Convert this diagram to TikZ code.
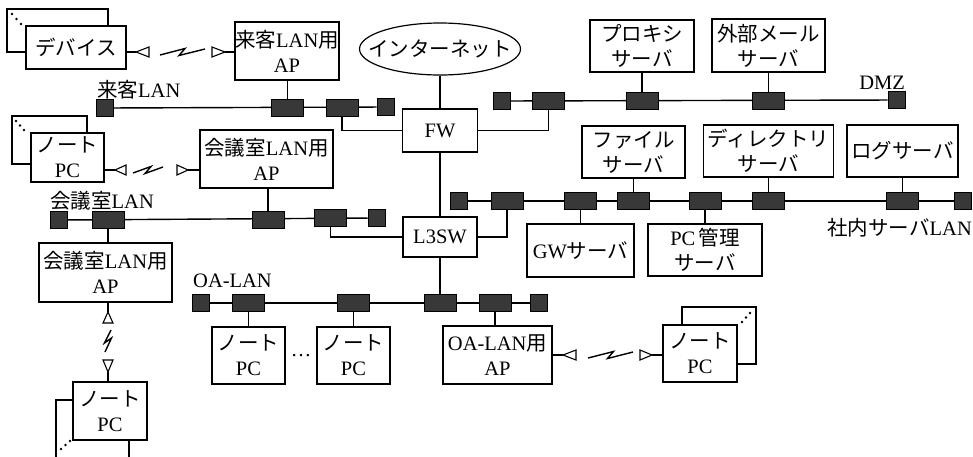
\documentclass[tikz,border=0pt]{standalone}
\usepackage{fontspec}
\setmainfont{Liberation Serif}
\newfontfamily\jpfont{Noto Sans CJK JP}
\newcommand{\J}[1]{{\jpfont #1}}
\usepackage{tikz}
\usetikzlibrary{backgrounds,shapes.geometric}

\tikzset{
  sz/.style 2 args={minimum width=#1pt,minimum height=#2pt},
  box/.style={draw,line width=1.2pt,inner sep=0pt,align=center,fill=white},
  tap/.style={draw,fill=black!78,line width=0.6pt,inner sep=0pt,sz={32}{17}},
  term/.style={tap,sz={17}{17}},
  lan/.style={line width=1.4pt},
  zig/.style={line width=1.4pt,line join=miter},
  tri/.style={draw,fill=white,line width=1.1pt,line join=miter},
  lbl/.style={inner sep=0pt}
}

\begin{document}
\begin{tikzpicture}[x=1pt,y=-1pt,font=\fontsize{20.5}{25}\selectfont]
\useasboundingbox (0,0) rectangle (973,456);
%%%%%%%%%%%%%%%%%%%%%%%%%%%%%%%%
%% boxes
%%%%%%%%%%%%%%%%%%%%%%%%%%%%%%%%
\node[box,sz={101}{43}] (devb) at (57.5,30.5) {};
\node[box,sz={100}{43}] (dev) at (76,47.5) {\J{デバイス}};
\node[box,sz={104}{58}] (gap) at (287,51) {\J{来客}LAN\J{用}\\AP};
\node[ellipse,draw,line width=1.2pt,inner sep=0pt,sz={161}{52}] (inet) at (440,49)
  {\makebox[0pt]{\J{インターネット}}};
\node[box,sz={75}{43}] (fw) at (440,130.5) {FW};
\node[box,sz={104}{52}] (proxy) at (642,46) {\J{プロキシ}\\\J{サーバ}};
\node[box,sz={113}{53}] (mail) at (768.5,45.5) {\J{外部メール}\\\J{サーバ}};

\node[box,sz={75}{48}] (noteb) at (49.5,140) {};
\node[box,sz={73}{49}] (note) at (67.5,157.5) {\J{ノート}\\PC};
\node[box,sz={133}{58}] (cap) at (266.5,159) {\J{会議室}LAN\J{用}\\AP};
\node[box,sz={74}{40}] (l3) at (440,237) {L3SW};
\node[box,sz={103}{52}] (file) at (633.5,152) {\J{ファイル}\\\J{サーバ}};
\node[box,sz={130}{52}] (dir) at (768.5,151) {\J{ディレクトリ}\\\J{サーバ}};
\node[box,sz={111}{52}] (log) at (902.5,151) {\J{ログサーバ}};
\node[box,sz={107}{53}] (gw) at (580.5,250.5) {GW\J{サーバ}};
\node[box,sz={114}{52}] (pcm) at (705,250) {PC\,\J{管理}\\\J{サーバ}};

\node[box,sz={133}{59}] (lcap) at (105.5,272.5) {\J{会議室}LAN\J{用}\\AP};
\node[box,sz={73}{57}] (pc1) at (248.5,355.5) {\J{ノート}\\PC};
\node[box,sz={73}{57}] (pc2) at (353.5,355.5) {\J{ノート}\\PC};
\node[lbl] (pcdots) at (301,356) {\ldots};
\node[box,sz={109}{58}] (oaap) at (497.5,355) {OA-LAN\J{用}\\AP};
\node[box,sz={74}{57}] (rnoteb) at (719,335.5) {};
\node[box,sz={74}{57}] (rnote) at (700,353.5) {\J{ノート}\\PC};
\node[box,sz={73}{58}] (lnoteb) at (92.5,429) {};
\node[box,sz={74}{58}] (lnote) at (110,411) {\J{ノート}\\PC};

% dots on the stacked boxes
\fill (12,14) circle (1.3) (16.5,19) circle (1.3) (21,24) circle (1.3);
\fill (16,121) circle (1.3) (20,125.5) circle (1.3) (24,130) circle (1.3);
\fill (750,313) circle (1.3) (746,317.5) circle (1.3) (742,322) circle (1.3);
\fill (61,449) circle (1.3) (65.5,445) circle (1.3) (70,441) circle (1.3);

%%%%%%%%%%%%%%%%%%%%%%%%%%%%%%%%
%% LAN taps
%%%%%%%%%%%%%%%%%%%%%%%%%%%%%%%%
\node[term] (rt0) at (105,108) {};
\node[tap]  (rt1) at (287.5,108) {};
\node[tap]  (rt2) at (342,108) {};
\node[term] (rt3) at (385.5,107) {};
\node[lbl,anchor=base west] (lguest) at (97,97) {\J{来客}LAN};

\node[term] (dt0) at (501.5,101) {};
\node[tap]  (dt1) at (548.5,101) {};
\node[tap]  (dt2) at (642,101) {};
\node[tap]  (dt3) at (768.5,101) {};
\node[term] (dt4) at (896.5,100) {};
\node[lbl,anchor=base east] (ldmz) at (905,89) {DMZ};

\node[term] (ct0) at (59,220) {};
\node[tap]  (ct1) at (108,220) {};
\node[tap]  (ct2) at (268,220) {};
\node[tap]  (ct3) at (330.5,218) {};
\node[term] (ct4) at (376.5,218) {};
\node[lbl,anchor=base west] (lconf) at (50,208) {\J{会議室}LAN};

\node[term] (st0) at (459,201) {};
\node[tap]  (st1) at (507,201) {};
\node[tap]  (st2) at (580.5,201) {};
\node[tap]  (st3) at (633.5,201) {};
\node[tap]  (st4) at (705,201) {};
\node[tap]  (st5) at (768.5,201) {};
\node[tap]  (st6) at (902.5,201) {};
\node[term] (st7) at (963,201) {};
\node[lbl,anchor=base east] (lsrv) at (972,235) {\J{社内サーバ}LAN};

\node[term] (ot0) at (201,303) {};
\node[tap]  (ot1) at (248.5,303) {};
\node[tap]  (ot2) at (353.5,303) {};
\node[tap]  (ot3) at (440,303) {};
\node[tap]  (ot4) at (495,303) {};
\node[term] (ot5) at (539,303) {};
\node[lbl,anchor=base west] (loa) at (193,287) {OA-LAN};

%%%%%%%%%%%%%%%%%%%%%%%%%%%%%%%%
%% wires
%%%%%%%%%%%%%%%%%%%%%%%%%%%%%%%%
\begin{scope}[on background layer]
\draw[lan] (rt0) -- (rt3);
\draw[lan] (rt1) -- (rt1 |- gap.south);
\draw[lan] (rt2) |- (fw);
\draw[lan] (inet) -- (fw);
\draw[lan] (fw) -| (dt1);
\draw[lan] (dt0) -- (dt4);
\draw[lan] (dt2) -- (proxy);
\draw[lan] (dt3) -- (mail);
\draw[lan] (fw) -- (l3);
%
\draw[lan] (ct0) -- (ct4);
\draw[lan] (ct1) -- (ct1 |- lcap.north);
\draw[lan] (ct2) -- (ct2 |- cap.south);
\draw[lan] (ct3) |- (l3);
%
\draw[lan] (st0) -- (st7);
\draw[lan] (l3) -| (st1);
\draw[lan] (st2) -- (gw);
\draw[lan] (st3) -- (file);
\draw[lan] (st4) -- (pcm);
\draw[lan] (st5) -- (dir);
\draw[lan] (st6) -- (log);
%
\draw[lan] (l3) -- (ot3);
\draw[lan] (ot0) -- (ot5);
\draw[lan] (ot1) -- (pc1);
\draw[lan] (ot2) -- (pc2);
\draw[lan] (ot4) -- (ot4 |- oaap.north);
\end{scope}

%%%%%%%%%%%%%%%%%%%%%%%%%%%%%%%%
%% wireless links
%%%%%%%%%%%%%%%%%%%%%%%%%%%%%%%%
\coordinate (a1) at (136,52);
\coordinate (a2) at (225,52);
\draw[lan] (dev.east |- a1) -- (a1);
\draw[tri] (a1) -- ++(13,-5) -- ++(0,10) -- cycle;
\draw[zig] (160,55) -- (185,48.5) -- (179,55.5) -- (205,49);
\draw[tri] (a2) -- ++(-13,-5) -- ++(0,10) -- cycle;
\draw[lan] (a2) -- (gap.west |- a2);

\coordinate (a3) at (115,170);
\coordinate (a4) at (188,170);
\draw[lan] (note.east |- a3) -- (a3);
\draw[tri] (a3) -- ++(11,-5) -- ++(0,10) -- cycle;
\draw[zig] (133,173) -- (151,166.5) -- (145,173.5) -- (163,167);
\draw[tri] (a4) -- ++(-11,-5) -- ++(0,10) -- cycle;
\draw[lan] (a4) -- (cap.west |- a4);

\coordinate (a5) at (108,312);
\coordinate (a6) at (108,372);
\draw[lan] (lcap.south -| a5) -- (a5);
\draw[tri] (a5) -- ++(-5,11) -- ++(10,0) -- cycle;
\draw[zig] (111,330) -- (104.5,343) -- (111.5,338) -- (105,352);
\draw[tri] (a6) -- ++(-5,-12) -- ++(10,0) -- cycle;
\draw[lan] (a6) -- (a6 |- lnote.north);

\coordinate (a7) at (563,355);
\coordinate (a8) at (652,355);
\draw[lan] (oaap.east |- a7) -- (a7);
\draw[tri] (a7) -- ++(13,-5) -- ++(0,10) -- cycle;
\draw[zig] (588,358) -- (613.5,351.5) -- (607.5,358.5) -- (633,352);
\draw[tri] (a8) -- ++(-12,-5) -- ++(0,10) -- cycle;
\draw[lan] (a8) -- (rnote.west |- a8);
\end{tikzpicture}
\end{document}
